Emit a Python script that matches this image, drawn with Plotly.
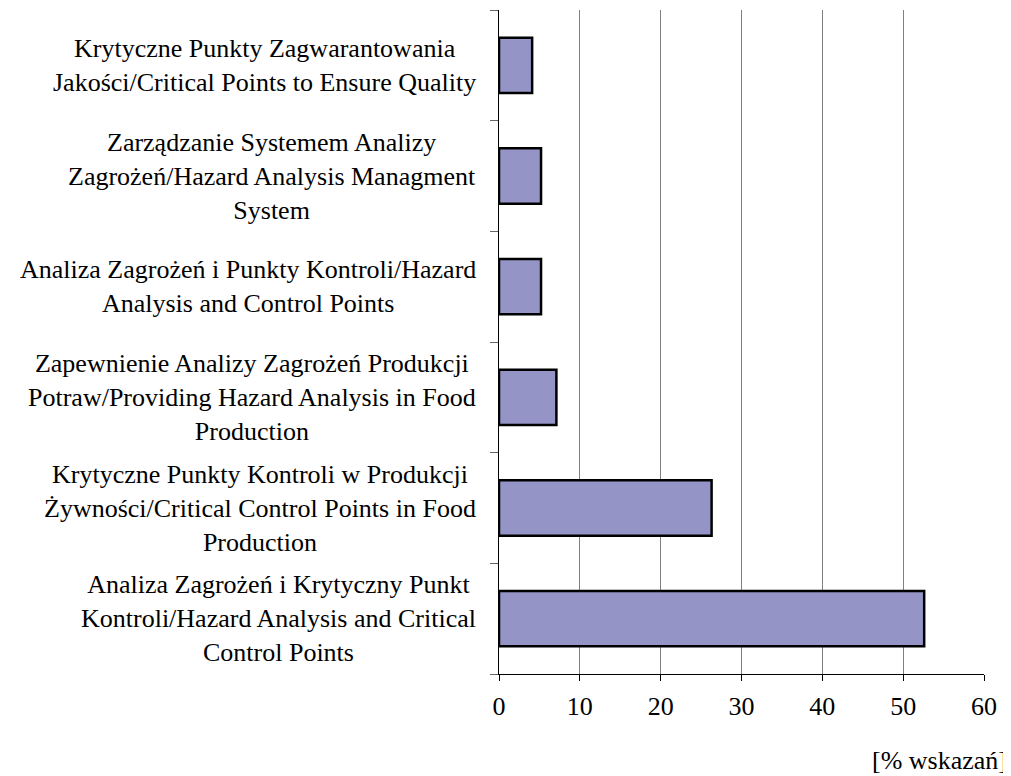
import plotly.graph_objects as go

categories = [
    "Krytyczne Punkty Zagwarantowania<br>Jakości/Critical Points to Ensure Quality",
    "Zarządzanie Systemem Analizy<br>Zagrożeń/Hazard Analysis Managment<br>System",
    "Analiza Zagrożeń i Punkty Kontroli/Hazard<br>Analysis and Control Points",
    "Zapewnienie Analizy Zagrożeń Produkcji<br>Potraw/Providing Hazard Analysis in Food<br>Production",
    "Krytyczne Punkty Kontroli w Produkcji<br>Żywności/Critical Control Points in Food<br>Production",
    "Analiza Zagrożeń i Krytyczny Punkt<br>Kontroli/Hazard Analysis and Critical<br>Control Points",
]
values = [4.1, 5.2, 5.2, 7.1, 26.3, 52.6]
x_ticks = [0, 10, 20, 30, 40, 50, 60]
x_title = "[% wskazań]"

FONT = "Liberation Serif"
LABEL_SIZE = 26

fig = go.Figure()
fig.add_trace(go.Bar(
    y=list(range(len(categories))),
    x=values,
    orientation="h",
    width=0.5,
    marker=dict(color="#9494C6", line=dict(color="black", width=2.5)),
    hoverinfo="x",
))

annotations = []
for i, c in enumerate(categories):
    annotations.append(dict(
        x=0, xref="paper", y=i, yref="y",
        text=c, showarrow=False, xanchor="right", yanchor="middle",
        align="center", xshift=-21,
        font=dict(family=FONT, size=LABEL_SIZE, color="black"),
    ))
annotations.append(dict(
    x=1, xref="paper", y=0, yref="paper", text=x_title, showarrow=False,
    xanchor="right", yanchor="middle", xshift=25, yshift=-86,
    font=dict(family=FONT, size=LABEL_SIZE, color="black"),
))

# page body has an 8px default margin; size the figure so the plot area lands where intended
fig.update_layout(
    width=1003, height=768,
    margin=dict(l=491, r=27, t=2, b=102),
    plot_bgcolor="white", paper_bgcolor="white",
    showlegend=False,
    annotations=annotations,
    font=dict(family=FONT, size=LABEL_SIZE, color="black"),
    xaxis=dict(
        range=[0, 60], tickvals=x_ticks, ticktext=[str(t) for t in x_ticks],
        showgrid=True, gridcolor="#808080", gridwidth=1,
        showline=True, linecolor="black", linewidth=1,
        ticks="outside", ticklen=6, tickcolor="black",
        zeroline=False, ticklabelstandoff=3,
        tickfont=dict(family=FONT, size=LABEL_SIZE, color="black"),
    ),
    yaxis=dict(
        range=[len(categories) - 0.5, -0.5],
        tickmode="array", tickvals=[i - 0.5 for i in range(len(categories) + 1)],
        showticklabels=False,
        showgrid=False, zeroline=False,
        showline=True, linecolor="black", linewidth=1,
        ticks="outside", ticklen=8, tickcolor="#666666",
    ),
)

fig.write_html("out.html")
